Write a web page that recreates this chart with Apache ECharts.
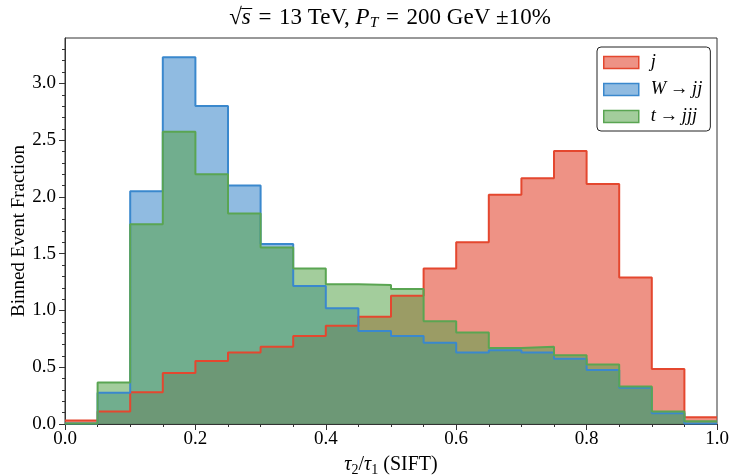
<!DOCTYPE html>
<html><head><meta charset="utf-8">
<script src="https://cdn.jsdelivr.net/npm/echarts@6/dist/echarts.min.js"></script>
<style>html,body{margin:0;padding:0;background:#fff}#c{width:730px;height:476px}</style>
</head><body><div id="c"></div>
<script>
// ---- data ----
const binEdges = [0.00,0.05,0.10,0.15,0.20,0.25,0.30,0.35,0.40,0.45,0.50,0.55,0.60,0.65,0.70,0.75,0.80,0.85,0.90,0.95,1.00];
const seriesNames = ['j','W→jj','t→jjj'];
const jValues = [0.03,0.11,0.28,0.45,0.555,0.63,0.68,0.775,0.865,0.945,1.13,1.37,1.60,2.02,2.165,2.405,2.115,1.29,0.485,0.06];
const wValues = [0.005,0.275,2.05,3.23,2.80,2.10,1.585,1.215,1.02,0.82,0.775,0.715,0.63,0.65,0.63,0.575,0.475,0.32,0.095,0.005];
const tValues = [0.005,0.365,1.76,2.575,2.20,1.855,1.555,1.37,1.23,1.225,1.19,0.905,0.805,0.67,0.68,0.605,0.525,0.33,0.11,0.025];
const xTickValues = [0.0,0.2,0.4,0.6,0.8,1.0];
const yTickValues = [0.0,0.5,1.0,1.5,2.0,2.5,3.0];
const yMinorTickValues = [0.1,0.2,0.3,0.4,0.6,0.7,0.8,0.9,1.1,1.2,1.3,1.4,1.6,1.7,1.8,1.9,2.1,2.2,2.3,2.4,2.6,2.7,2.8,2.9,3.1,3.2,3.3];

// ---- style ----
const FONT = 'Liberation Serif';
const lineColors = ['#E4472F','#3A88CD','#5AA552'];
const fillColors = ['rgba(226,74,51,0.6)','rgba(52,132,200,0.55)','rgba(88,164,74,0.55)'];
const AX = '#333';

function stepData(vals){ return binEdges.map((x,i)=>[x, vals[Math.min(i, vals.length-1)]]); }
const allVals = [jValues, wValues, tValues];
const series = [];
allVals.forEach((v,k)=>{
  series.push({name: seriesNames[k], type:'line', step:'end', data: stepData(v), symbol:'none', showSymbol:false,
    lineStyle:{width:0, opacity:0}, areaStyle:{color: fillColors[k], opacity:1},
    itemStyle:{color: fillColors[k]}, z:2, silent:true, animation:false});
});
allVals.forEach((v,k)=>{
  series.push({name: seriesNames[k]+'_edge', type:'line', step:'end', data: stepData(v), symbol:'none', showSymbol:false,
    lineStyle:{width:2, color: lineColors[k]}, z:3, silent:true, animation:false});
});

const LS = 18.5;
const legendRich = {
  i:{fontFamily:FONT, fontStyle:'italic', fontSize:LS, color:'#000'},
  n:{fontFamily:FONT, fontSize:LS, color:'#000'}
};
const legendFmt = {'j':'{i|j}', 'W→jj':'{i|W}{n|\u2009→\u2009}{i|jj}', 't→jjj':'{i|t}{n|\u2009→\u2009}{i|jjj}'};

// title measurement for overline over s
const TS = 23, TSUB = 15.5;
const EQ = '\u2004=\u2004';
const cv = document.createElement('canvas').getContext('2d');
function mw(t, italic, size){ cv.font = (italic?'italic ':'') + size + 'px "' + FONT + '"'; return cv.measureText(t).width; }
const parts = [['√',0,TS],['s',1,TS],[EQ+'13 TeV, ',0,TS],['P',1,TS],['T',1,TSUB],[EQ+'200 GeV ±10%',0,TS]];
const titleW = parts.reduce((a,p)=>a+mw(p[0],p[1],p[2]),0);
const titleCX = 390, titleY = 5;
const x0 = titleCX - titleW/2;
const sx = x0 + mw('√',0,TS);
const sw = mw('s',1,TS);

const chart = echarts.init(document.getElementById('c'), null, {renderer:'canvas'});
chart.setOption({
  animation:false,
  backgroundColor:'#fff',
  grid:{left:65, right:13, top:38, bottom:52, containLabel:false, outerBoundsMode:'none',
    show:true, borderColor:AX, borderWidth:1, backgroundColor:'transparent'},
  xAxis:{type:'value', min:0, max:1, interval:0.2,
    axisLine:{show:true, lineStyle:{color:AX, width:1}},
    axisTick:{show:true, inside:false, length:6, lineStyle:{color:AX}, customValues:xTickValues},
    minorTick:{show:true, splitNumber:4, length:3, lineStyle:{color:AX}},
    axisLabel:{customValues:xTickValues, formatter:v=>v.toFixed(1), fontFamily:FONT, fontSize:19, color:'#000', margin:6},
    splitLine:{show:false}, minorSplitLine:{show:false},
    name:'{i|τ}{sub|2}{n|/}{i|τ}{sub|1}{n| (SIFT)}', nameLocation:'middle', nameGap:29, nameMoveOverlap:false,
    nameTextStyle:{rich:{
      i:{fontFamily:FONT, fontStyle:'italic', fontSize:20, color:'#000', lineHeight:24},
      n:{fontFamily:FONT, fontSize:20, color:'#000', lineHeight:24},
      sub:{fontFamily:FONT, fontSize:14, color:'#000', verticalAlign:'bottom', lineHeight:24}
    }}
  },
  yAxis:[{type:'value', min:0, max:3.4, interval:0.5,
    axisLine:{show:true, lineStyle:{color:AX, width:1}},
    axisTick:{show:true, inside:false, length:6, lineStyle:{color:AX}, customValues:yTickValues},
    axisLabel:{customValues:yTickValues, formatter:v=>v.toFixed(1), fontFamily:FONT, fontSize:19, color:'#000', margin:9},
    splitLine:{show:false},
    name:'Binned Event Fraction', nameLocation:'middle', nameGap:36, nameRotate:90, nameMoveOverlap:false,
    nameTextStyle:{fontFamily:FONT, fontSize:19, color:'#000'}
  },{type:'value', min:0, max:3.4, position:'left',
    axisLine:{show:false},
    axisTick:{show:true, inside:false, length:3, lineStyle:{color:AX}, customValues:yMinorTickValues},
    axisLabel:{show:false}, splitLine:{show:false}
  }],
  legend:{orient:'vertical', left:597, top:47, padding:[6,8,5,6], itemGap:8, itemWidth:35, itemHeight:12,
    backgroundColor:'#fff', borderColor:'#222', borderWidth:1, borderRadius:4, z:10,
    data: seriesNames.map((n,k)=>({name:n, icon:'rect', itemStyle:{color:fillColors[k], borderColor:lineColors[k], borderWidth:1.5}})),
    formatter: n=>legendFmt[n],
    textStyle:{fontFamily:FONT, fontSize:LS, color:'#000', padding:[0,0,0,7], rich:legendRich}
  },
  series: series,
  graphic:[
    {type:'text', x:titleCX, y:titleY, z:10, style:{
      text:'{n|√}{i|s}{n|'+EQ+'13 TeV, }{i|P}{sub|T}{n|'+EQ+'200 GeV ±10%}', align:'center', verticalAlign:'top',
      rich:{
        n:{fontFamily:FONT, fontSize:TS, fill:'#000', lineHeight:26},
        i:{fontFamily:FONT, fontStyle:'italic', fontSize:TS, fill:'#000', lineHeight:26},
        sub:{fontFamily:FONT, fontStyle:'italic', fontSize:TSUB, fill:'#000', verticalAlign:'bottom', lineHeight:26}
      }}},
    {type:'line', z:10, shape:{x1:sx-0.5, y1:titleY+3.5, x2:sx+sw+1.5, y2:titleY+3.5}, style:{stroke:'#000', lineWidth:1}}
  ]
});
</script>
</body></html>
